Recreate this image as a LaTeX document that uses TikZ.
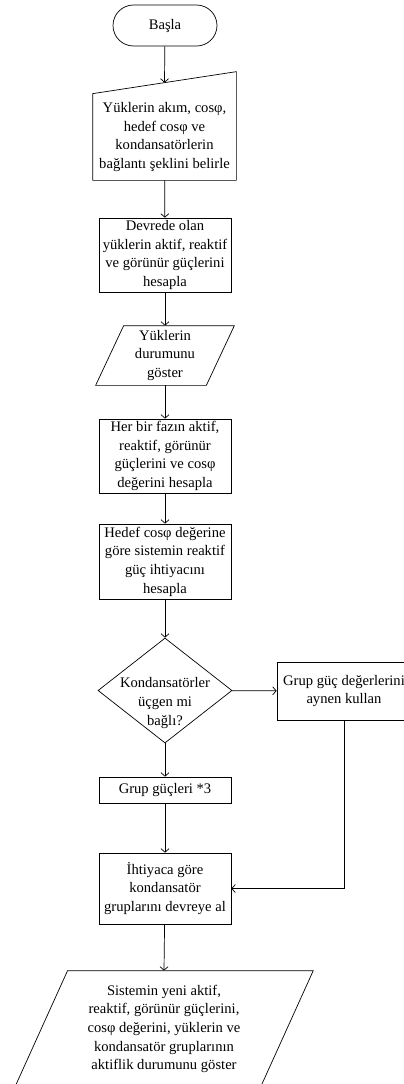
\documentclass[tikz,border=0pt]{standalone}
\usepackage{fontspec}
\setmainfont{Liberation Serif}
\usetikzlibrary{shapes.geometric, arrows.meta}

\begin{document}
\begin{tikzpicture}[x=1pt, y=-1pt, line width=0.7pt,
    font=\fontsize{14.6}{18.7}\selectfont,
    >={Straight Barb[length=3.5pt, width=8pt]},
    box/.style={draw, align=center, minimum width=132, inner sep=0pt},
    txt/.style={align=center, inner sep=0pt},
    flow/.style={->}]
    % Page frame
    \useasboundingbox (0,0) rectangle (404,1084);
    \clip (0,0) rectangle (404,1084);

    % Start
    \node[draw, rounded corners=20.5, minimum width=104, minimum height=41, inner sep=0pt] (basla) at (165,25.5) {Başla};

    % Manual input: loads and target
    \node[txt, minimum width=143, minimum height=86] (girdi) at (164.5,137) {Yüklerin akım, cosφ,\\hedef cosφ ve\\kondansatörlerin\\bağlantı şeklini belirle};
    \draw (girdi.south west) -- (girdi.north west) -- ([yshift=22pt]girdi.north east) -- (girdi.south east) -- cycle;

    % Process boxes
    \node[box, minimum height=74] (devre) at (165,255) {Devrede olan\\yüklerin aktif, reaktif\\ve görünür güçlerini\\hesapla};

    % Output: load status
    \node[txt, minimum width=110, minimum height=59] (durum) at (165,355.5) {Yüklerin\\durumunu\\göster};
    \draw ([xshift=-14pt]durum.south west) -- ([xshift=-14pt]durum.south east) -- ([xshift=14pt]durum.north east) -- ([xshift=14pt]durum.north west) -- cycle;

    \node[box, minimum height=74] (faz) at (165,456) {Her bir fazın aktif,\\reaktif, görünür\\güçlerini ve cosφ\\değerini hesapla};
    \node[box, minimum height=75] (hedef) at (165,561.5) {Hedef cosφ değerine\\göre sistemin reaktif\\güç ihtiyacını\\hesapla};

    % Decision
    \node[draw, diamond, minimum width=134, minimum height=105, inner sep=0pt] (kosul) at (165,690.5) {};
    \node[txt] (kosulyazi) at (165,703) {Kondansatörler\\üçgen mi\\bağlı?};

    \node[box, minimum width=134, minimum height=58] (aynen) at (344,691) {Grup güç değerlerini\\aynen kullan};
    \node[box, minimum height=26] (grup) at (165,790) {Grup güçleri *3};
    \node[box, minimum height=71] (ihtiyac) at (165,888.5) {İhtiyaca göre\\kondansatör\\gruplarını devreye al};

    % Output: final state (runs off the page)
    \node[txt, minimum width=245, minimum height=116] (sonuc) at (164,1029) {Sistemin yeni aktif,\\reaktif, görünür güçlerini,\\cosφ değerini, yüklerin ve\\kondansatör gruplarının\\aktiflik durumunu göster};
    \draw ([xshift=-26.4pt]sonuc.south west) -- ([xshift=-26.4pt]sonuc.south east) -- ([xshift=26.4pt]sonuc.north east) -- ([xshift=26.4pt]sonuc.north west) -- cycle;

    % Connectors
    \draw[flow] (basla) -- ([yshift=11pt]girdi.north);
    \draw[flow] (girdi) -- (devre);
    \draw[flow] (devre) -- (durum);
    \draw[flow] (durum) -- (faz);
    \draw[flow] (faz) -- (hedef);
    \draw[flow] (hedef) -- (kosul);
    \draw[flow] (kosul) -- (aynen);
    \draw[flow] (kosul) -- (grup);
    \draw[flow] (grup) -- (ihtiyac);
    \draw[flow] (aynen.south) |- (ihtiyac.east);
    \draw[flow] (ihtiyac) -- (sonuc.north);
\end{tikzpicture}
\end{document}
